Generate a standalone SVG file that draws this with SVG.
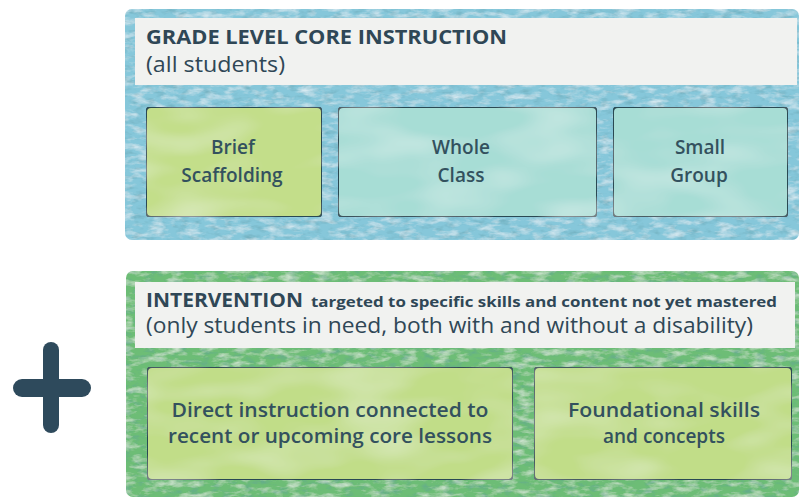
<svg xmlns="http://www.w3.org/2000/svg" width="800" height="498" viewBox="0 0 800 498">
  <defs>
    <style>
      .title { font-family: "Open Sans", "Noto Sans", sans-serif; font-weight: 700; fill: #2f4756; }
      .sub { font-family: "Open Sans", "Noto Sans", sans-serif; font-weight: 400; fill: #2f4756; }
      .label { font-family: "Open Sans", "Noto Sans", sans-serif; font-weight: 600; font-size: 19px; fill: #33515e; text-anchor: middle; }
      .band { fill: #f1f2f0; }
      .box { stroke: #2b4853; stroke-width: 2; }
      .lime { fill: #c3de8a; }
      .teal { fill: #a7ddd5; }
      .leaf { fill: #c1dd88; }
    </style>
    <!-- fine watercolour grain laid over the flat panel fills -->
    <filter id="wash" x="0" y="0" width="1" height="1">
      <feTurbulence type="fractalNoise" baseFrequency="0.06 0.16" numOctaves="4" seed="7" result="noise"/>
      <feColorMatrix in="noise" type="matrix" values="0 0 0 0 1  0 0 0 0 1  0 0 0 0 1  0 0 0 1.2 -0.55" result="spots"/>
      <feComposite in="spots" in2="SourceGraphic" operator="in" result="lit"/>
      <feTurbulence type="fractalNoise" baseFrequency="0.09 0.2" numOctaves="3" seed="11" result="noise2"/>
      <feColorMatrix in="noise2" type="matrix" values="0 0 0 0 0.1  0 0 0 0 0.3  0 0 0 0 0.35  0 0 0 1.1 -0.55" result="dark"/>
      <feComposite in="dark" in2="SourceGraphic" operator="in" result="shade"/>
      <feMerge><feMergeNode in="SourceGraphic"/><feMergeNode in="lit"/><feMergeNode in="shade"/></feMerge>
    </filter>
    <!-- gentle blotches inside the boxes -->
    <filter id="soft" x="0" y="0" width="1" height="1">
      <feTurbulence type="fractalNoise" baseFrequency="0.012 0.03" numOctaves="2" seed="2" result="noise"/>
      <feColorMatrix in="noise" type="matrix" values="0 0 0 0 1  0 0 0 0 1  0 0 0 0 1  0 0 0 0.6 -0.25" result="spots"/>
      <feComposite in="spots" in2="SourceGraphic" operator="in" result="lit"/>
      <feMerge><feMergeNode in="SourceGraphic"/><feMergeNode in="lit"/></feMerge>
    </filter>
  </defs>

  <rect width="800" height="498" fill="#ffffff"/>

  <!-- core instruction panel -->
  <g id="core">
    <rect x="125" y="9" width="674" height="231" rx="7" fill="#86c7da" filter="url(#wash)"/>
    <rect class="band" x="135" y="18" width="662" height="67"/>
    <text class="title" x="146" y="44" font-size="20" textLength="361" lengthAdjust="spacingAndGlyphs">GRADE LEVEL CORE INSTRUCTION</text>
    <text class="sub" x="146" y="72" font-size="21" textLength="139" lengthAdjust="spacingAndGlyphs">(all students)</text>
  </g>

  <g id="brief">
    <rect class="box lime" x="146" y="107" width="176" height="110" rx="5" filter="url(#soft)"/>
    <text class="label" x="233" y="154">Brief</text>
    <text class="label" x="232" y="182">Scaffolding</text>
  </g>

  <g id="whole">
    <rect class="box teal" x="338" y="107" width="259" height="110" rx="5" filter="url(#soft)"/>
    <text class="label" x="461" y="154">Whole</text>
    <text class="label" x="461" y="182">Class</text>
  </g>

  <g id="small">
    <rect class="box teal" x="613" y="107" width="175" height="110" rx="5" filter="url(#soft)"/>
    <text class="label" x="700" y="154">Small</text>
    <text class="label" x="699" y="182">Group</text>
  </g>

  <!-- plus sign between the two tiers -->
  <g id="plus" stroke="#2e4a5c" stroke-linecap="round" fill="none">
    <line x1="51" y1="350" x2="51" y2="425" stroke-width="16"/>
    <line x1="22" y1="388" x2="82" y2="388" stroke-width="18"/>
  </g>

  <!-- intervention panel -->
  <g id="intervention">
    <rect x="126" y="271" width="673" height="226" rx="7" fill="#6dbd76" filter="url(#wash)"/>
    <rect class="band" x="135" y="282" width="660" height="66"/>
    <text class="title" x="146" y="307" font-size="19" textLength="157" lengthAdjust="spacingAndGlyphs">INTERVENTION</text>
    <text class="title" x="311" y="307" font-size="15" textLength="466" lengthAdjust="spacingAndGlyphs">targeted to specific skills and content not yet mastered</text>
    <text class="sub" x="146" y="333" font-size="21" textLength="607" lengthAdjust="spacingAndGlyphs">(only students in need, both with and without a disability)</text>
  </g>

  <g id="direct">
    <rect class="box leaf" x="147" y="367" width="366" height="113" rx="5" filter="url(#soft)"/>
    <text class="label" x="330" y="417" textLength="317" lengthAdjust="spacingAndGlyphs">Direct instruction connected to</text>
    <text class="label" x="330" y="443" textLength="324" lengthAdjust="spacingAndGlyphs">recent or upcoming core lessons</text>
  </g>

  <g id="foundational">
    <rect class="box leaf" x="534" y="367" width="258" height="113" rx="5" filter="url(#soft)"/>
    <text class="label" x="664" y="417" textLength="192" lengthAdjust="spacingAndGlyphs">Foundational skills</text>
    <text class="label" x="664" y="443">and concepts</text>
  </g>

  <g id="connectors"></g>
</svg>
